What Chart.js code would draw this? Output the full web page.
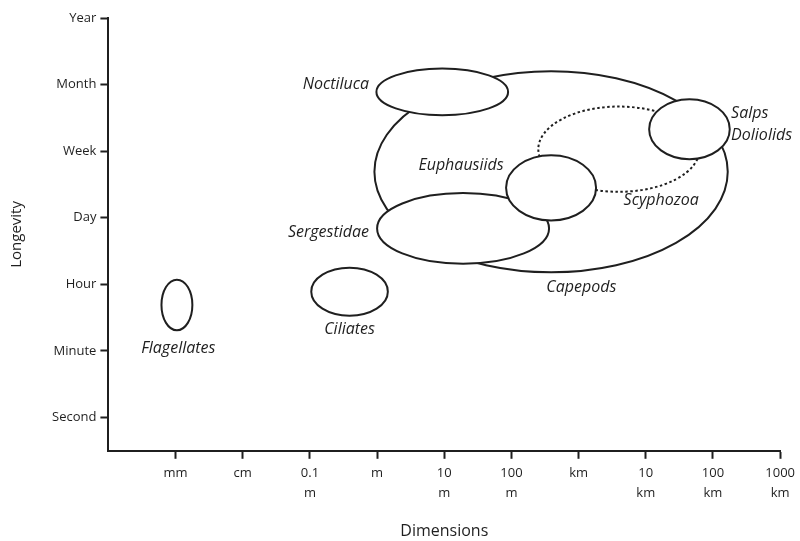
<!DOCTYPE html>
<html>
<head>
<meta charset="utf-8">
<script src="https://cdn.jsdelivr.net/npm/chart.js@4.4.0/dist/chart.umd.min.js"></script>
<style>
  html, body { margin: 0; padding: 0; background: #fff; }
  #wrap { width: 800px; height: 541px; }
</style>
</head>
<body>
<div id="wrap"><canvas id="chart"></canvas></div>
<script>
// --- Axis categories ---
const sizeTicks = [['mm'], ['cm'], ['0.1', 'm'], ['m'], ['10', 'm'], ['100', 'm'], ['km'], ['10', 'km'], ['100', 'km'], ['1000', 'km']];
const lifeTicks = ['Second', 'Minute', 'Hour', 'Day', 'Week', 'Month', 'Year'];

// --- Groups (in drawing order, back to front) ---
const groups = ['Capepods', 'Scyphozoa', 'Noctiluca', 'Sergestidae', 'Euphausiids', 'Salps Doliolids', 'Ciliates', 'Flagellates'];
const sizeCenter = [5.59, 6.60, 3.97, 4.28, 5.59, 7.65, 2.59, 0.02];
const sizeSpread = [2.63, 1.20, 0.98, 1.28, 0.67, 0.60, 0.57, 0.23];
const lifeCenter = [3.69, 4.03, 4.89, 2.84, 3.45, 4.33, 1.89, 1.69];
const lifeSpread = [1.51, 0.64, 0.35, 0.53, 0.49, 0.45, 0.36, 0.38];
const dashed = [false, true, false, false, false, false, false, false];

// --- Label anchors (dimension, longevity) ---
const labelText = ['Noctiluca', 'Salps', 'Doliolids', 'Euphausiids', 'Scyphozoa', 'Sergestidae', 'Capepods', 'Ciliates', 'Flagellates'];
const labelX = [2.88, 8.27, 8.27, 4.25, 7.23, 2.88, 6.04, 2.59, 0.04];
const labelY = [5.00, 4.57, 4.24, 3.79, 3.26, 2.78, 1.95, 1.33, 1.03];
const labelAlign = ['right', 'left', 'left', 'center', 'center', 'right', 'center', 'center', 'center'];

const ink = '#1f1f1f';

const ellipsePlugin = {
  id: 'ellipses',
  afterDatasetsDraw(chart) {
    const { ctx, scales: { x, y } } = chart;
    ctx.save();
    groups.forEach((g, i) => {
      const cx = x.getPixelForValue(sizeCenter[i]);
      const cy = y.getPixelForValue(lifeCenter[i]);
      const rx = Math.abs(x.getPixelForValue(sizeCenter[i] + sizeSpread[i]) - cx);
      const ry = Math.abs(y.getPixelForValue(lifeCenter[i] + lifeSpread[i]) - cy);
      ctx.beginPath();
      ctx.ellipse(cx, cy, rx, ry, 0, 0, Math.PI * 2);
      ctx.fillStyle = '#fff';
      ctx.fill();
      ctx.setLineDash(dashed[i] ? [2.5, 2.5] : []);
      ctx.lineWidth = 2;
      ctx.strokeStyle = ink;
      ctx.stroke();
    });
    ctx.setLineDash([]);
    ctx.fillStyle = ink;
    ctx.font = 'italic 16px "Open Sans"';
    ctx.textBaseline = 'middle';
    labelText.forEach((t, i) => {
      ctx.textAlign = labelAlign[i];
      ctx.fillText(t, x.getPixelForValue(labelX[i]), y.getPixelForValue(labelY[i]));
    });
    ctx.restore();
  }
};

new Chart(document.getElementById('chart'), {
  type: 'scatter',
  data: { datasets: [{ data: [], pointRadius: 0 }] },
  options: {
    responsive: true,
    maintainAspectRatio: false,
    animation: false,
    layout: { padding: { left: 8, right: 13, top: 18, bottom: 0 } },
    plugins: { legend: { display: false }, tooltip: { enabled: false } },
    scales: {
      x: {
        type: 'linear', min: -1, max: 9,
        afterBuildTicks: (axis) => { axis.ticks = sizeTicks.map((_, i) => ({ value: i })); },
        ticks: {
          autoSkip: false, maxRotation: 0, padding: 5,
          color: ink, font: { family: 'Open Sans', size: 13, lineHeight: 1.5 },
          callback: (v) => sizeTicks[v]
        },
        grid: { drawOnChartArea: false, drawTicks: true, tickLength: 8, tickWidth: 2, color: ink },
        border: { display: true, color: ink, width: 2 },
        title: { display: true, text: 'Dimensions', color: ink, font: { family: 'Open Sans', size: 16 }, padding: { top: 14, bottom: 0 } }
      },
      y: {
        type: 'linear', min: -0.5, max: 6,
        afterBuildTicks: (axis) => { axis.ticks = lifeTicks.map((_, i) => ({ value: i })); },
        ticks: {
          autoSkip: false, padding: 4,
          color: ink, font: { family: 'Open Sans', size: 13 },
          callback: (v) => lifeTicks[v]
        },
        grid: { drawOnChartArea: false, drawTicks: true, tickLength: 8, tickWidth: 2, color: ink },
        border: { display: true, color: ink, width: 2 },
        title: { display: true, text: 'Longevity', color: ink, font: { family: 'Open Sans', size: 15 }, padding: { top: 0, bottom: 22 } }
      }
    }
  },
  plugins: [ellipsePlugin]
});
</script>
</body>
</html>
